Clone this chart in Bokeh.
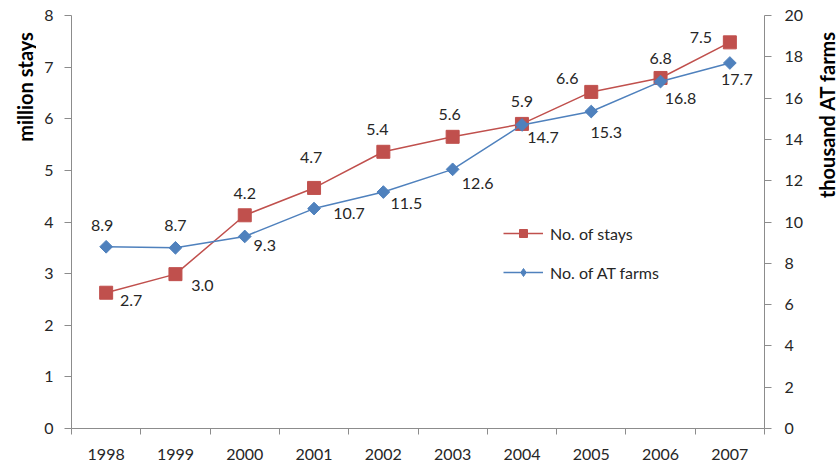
import numpy as np
from bokeh.plotting import figure
from bokeh.layouts import row
from bokeh.models import (Range1d, LinearAxis, FixedTicker, Legend, LegendItem,
                          ColumnDataSource)
from bokeh.core.properties import value
from bokeh.embed import file_html
from bokeh.resources import INLINE

# ---- data ----
years = ["1998", "1999", "2000", "2001", "2002", "2003", "2004", "2005", "2006", "2007"]
stays = [2.63, 2.99, 4.13, 4.66, 5.36, 5.65, 5.90, 6.52, 6.79, 7.48]          # million stays
stays_labels = ["2.7", "3.0", "4.2", "4.7", "5.4", "5.6", "5.9", "6.6", "6.8", "7.5"]
farms = [8.8, 8.75, 9.3, 10.65, 11.45, 12.55, 14.7, 15.35, 16.8, 17.7]         # thousand AT farms
farms_labels = ["8.9", "8.7", "9.3", "10.7", "11.5", "12.6", "14.7", "15.3", "16.8", "17.7"]
left_title = "million stays"
right_title = "thousand AT farms"

# label offsets (screen px, styling)
stays_dx = [25, 27, 0, -3, -6, -3, 0, -24, 0, -29]
stays_dy = [8, 11, -22, -30, -22, -22, -22, -13, -19, -5]
farms_dx = [-4, 0, 20, 35, 23, 25, 21, 15, 20, 7]
farms_dy = [-21, -22, 9, 5, 11, 14, 13, 21, 17, 17]

RED = "#C0504D"
BLUE = "#4F81BD"
AXIS = "#8C8C8C"
TXT = "#262626"
FONT = "Lato"

n = len(years)
xc = [i + 0.5 for i in range(n)]

W, H = 840, 468
LEFT_W, RIGHT_W = 36, 24
MAIN_W = W - LEFT_W - RIGHT_W

p = figure(width=MAIN_W, height=H, output_backend="svg", toolbar_location=None,
           x_range=Range1d(0, n), y_range=Range1d(0, 8),
           min_border_left=71 - LEFT_W, min_border_right=MAIN_W - (764 - LEFT_W),
           min_border_top=15, min_border_bottom=40)
p.outline_line_color = None
p.xgrid.visible = False
p.ygrid.visible = False
p.extra_y_ranges = {"farms": Range1d(0, 20)}

# x axis: labels at centers, ticks at category boundaries
xa = p.xaxis[0]
xa.ticker = FixedTicker(ticks=xc, minor_ticks=list(range(n + 1)))
xa.major_label_overrides = {x: y for x, y in zip(xc, years)}
xa.major_tick_out = 0
xa.major_tick_in = 0
xa.minor_tick_out = 6
xa.minor_tick_in = 0
xa.axis_line_color = AXIS
xa.minor_tick_line_color = AXIS
xa.major_label_text_font = FONT
xa.major_label_text_font_size = "16px"
xa.major_label_text_color = TXT
xa.major_label_standoff = 14

ya = p.yaxis[0]
ya.ticker = FixedTicker(ticks=list(range(0, 9)))
ya.major_tick_out = 7
ya.major_tick_in = 0
ya.minor_tick_line_color = None
ya.axis_line_color = AXIS
ya.major_tick_line_color = AXIS
ya.major_label_text_font = FONT
ya.major_label_text_font_size = "16px"
ya.major_label_text_color = TXT
ya.major_label_standoff = 11

ra = LinearAxis(y_range_name="farms", ticker=FixedTicker(ticks=list(range(0, 21, 2))))
ra.major_tick_out = 7
ra.major_tick_in = 0
ra.minor_tick_line_color = None
ra.axis_line_color = AXIS
ra.major_tick_line_color = AXIS
ra.major_label_text_font = FONT
ra.major_label_text_font_size = "16px"
ra.major_label_text_color = TXT
ra.major_label_standoff = 13
p.add_layout(ra, "right")

# series
src_s = ColumnDataSource(dict(x=xc, y=stays, t=stays_labels, dx=stays_dx, dy=stays_dy))
src_f = ColumnDataSource(dict(x=xc, y=farms, t=farms_labels, dx=farms_dx, dy=farms_dy))

ls = p.line("x", "y", source=src_s, line_color=RED, line_width=1.5)
ms = p.scatter("x", "y", source=src_s, marker="square", size=13,
               fill_color=RED, line_color=RED)
lf = p.line("x", "y", source=src_f, line_color=BLUE, line_width=1.5, y_range_name="farms")
mf = p.scatter("x", "y", source=src_f, marker="square", size=9, angle=np.pi / 4,
               fill_color=BLUE, line_color=BLUE, y_range_name="farms")
# legend-only marker (diamond shape), placed outside the visible range
mf_leg = p.scatter([-10], [-10], marker="diamond", size=15,
                   fill_color=BLUE, line_color=BLUE)

p.text("x", "y", text="t", source=src_s, x_offset="dx", y_offset="dy",
       text_align="center", text_baseline="middle", text_font=value(FONT),
       text_font_size="16px", text_color=TXT)
p.text("x", "y", text="t", source=src_f, x_offset="dx", y_offset="dy",
       text_align="center", text_baseline="middle", text_font=value(FONT),
       text_font_size="16px", text_color=TXT, y_range_name="farms")

legend = Legend(items=[LegendItem(label="No. of stays", renderers=[ls, ms]),
                       LegendItem(label="No. of AT farms", renderers=[lf, mf_leg])],
                location=(432, 146), orientation="vertical",
                padding=0, margin=0, spacing=19, glyph_width=40, glyph_height=20,
                label_height=20, label_standoff=7,
                label_text_font=FONT, label_text_font_size="16px", label_text_color=TXT,
                border_line_color=None, background_fill_alpha=0)
p.add_layout(legend, "center")


def title_panel(width, text, cx, cy):
    """Narrow panel holding a rotated axis title (reads bottom-to-top)."""
    s = figure(width=width, height=H, output_backend="svg", toolbar_location=None,
               x_range=Range1d(0, width), y_range=Range1d(0, H),
               min_border_left=0, min_border_right=0, min_border_top=0, min_border_bottom=0)
    s.axis.visible = False
    s.grid.visible = False
    s.outline_line_color = None
    s.text(x=[cx], y=[H - cy], text=[text], angle=np.pi / 2,
           text_align="center", text_baseline="middle", text_font=value(FONT),
           text_font_style="bold", text_font_size="20px", text_color="#000000")
    return s


left = title_panel(LEFT_W, left_title, 24, 81)
right = title_panel(RIGHT_W, right_title, RIGHT_W / 2 - 2, 112)

layout = row(left, p, right, spacing=0)
open("out.html", "w").write(file_html(layout, INLINE))
